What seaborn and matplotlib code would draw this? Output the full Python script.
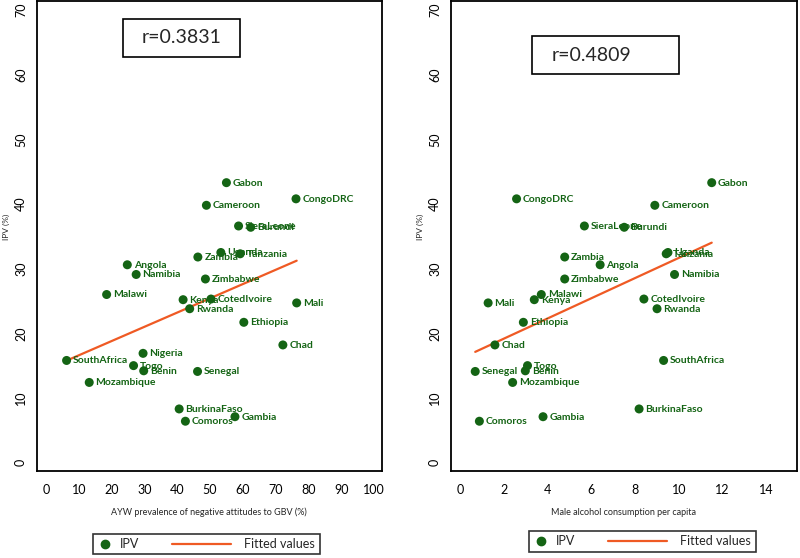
import numpy as np
import pandas as pd
import matplotlib
matplotlib.use("Agg")
import matplotlib.pyplot as plt
import seaborn as sns
from matplotlib.lines import Line2D
from matplotlib.patches import Rectangle
from matplotlib.legend_handler import HandlerLine2D

# --- data ---
countries = ["Gabon", "CongoDRC", "Cameroon", "SieraLeone", "Burundi", "Uganda",
             "Tanzania", "Zambia", "Angola", "Namibia", "Zimbabwe", "Malawi",
             "Kenya", "CotedIvoire", "Mali", "Rwanda", "Ethiopia", "Chad",
             "Nigeria", "SouthAfrica", "Togo", "Benin", "Senegal", "Mozambique",
             "BurkinaFaso", "Gambia", "Comoros"]
ipv = [43.3, 40.8, 39.8, 36.6, 36.4, 32.5, 32.3, 31.8, 30.6, 29.1, 28.4, 26.0,
       25.2, 25.3, 24.7, 23.8, 21.7, 18.2, 16.9, 15.8, 15.0, 14.2, 14.1, 12.4,
       8.3, 7.1, 6.4]
gbv_attitudes = [55.0, 76.2, 48.9, 58.7, 62.4, 53.3, 59.2, 46.3, 24.8, 27.5, 48.6,
                 18.5, 41.8, 50.3, 76.4, 43.8, 60.3, 72.2, 29.6, 6.3, 26.7, 29.8,
                 46.2, 13.2, 40.6, 57.6, 42.5]
alcohol = [11.5, 2.58, 8.9, 5.68, 7.5, 9.5, 9.42, 4.78, 6.4, 9.8, 4.78, 3.71,
           3.39, 8.4, 1.28, 9.0, 2.89, 1.59, np.nan, 9.3, 3.08, 2.98, 0.69, 2.40,
           8.18, 3.79, 0.88]
r_values = ["r=0.3831", "r=0.4809"]

df = pd.DataFrame({"country": countries, "IPV": ipv,
                   "gbv": gbv_attitudes, "alcohol": alcohol})

GREEN = "#146414"
ORANGE = "#ef5a24"

sns.set_style("white")
plt.rcParams["font.family"] = ["Lato", "DejaVu Sans"]


class LongLine(HandlerLine2D):
    # fitted-values handle drawn longer, reaching back into the column gap
    def create_artists(self, legend, orig_handle, xdescent, ydescent,
                       width, height, fontsize, trans):
        arts = super().create_artists(legend, orig_handle, xdescent, ydescent,
                                      width, height, fontsize, trans)
        for a in arts:
            y = a.get_ydata()
            a.set_data(np.linspace(-xdescent - 4.0 * fontsize,
                                   -xdescent + width - 0.5 * fontsize, len(y)), y)
        return arts


def draw_panel(ax, xcol, xlabel, xlim, xticks):
    sub = df.dropna(subset=[xcol])
    sns.scatterplot(data=sub, x=xcol, y="IPV", ax=ax, color=GREEN, s=42,
                    edgecolor="none", legend=False, zorder=3)
    sns.regplot(data=sub, x=xcol, y="IPV", ax=ax, scatter=False, ci=None,
                truncate=True, line_kws=dict(color=ORANGE, lw=1.6, zorder=2))
    for _, row in sub.iterrows():
        ax.annotate(row["country"], (row[xcol], row["IPV"]), xytext=(4.6, -0.3),
                    textcoords="offset points", va="center", ha="left",
                    fontsize=7.5, color=GREEN, fontweight="bold", zorder=4)
    ax.set_xlim(*xlim)
    ax.set_ylim(-1.3, 71.4)
    ax.set_xticks(xticks)
    ax.set_yticks(range(0, 71, 10))
    ax.tick_params(axis="both", direction="out", length=4, width=1,
                   labelsize=9, colors="black", pad=3)
    ax.tick_params(axis="x", pad=5)
    for lab in ax.get_yticklabels():
        lab.set_rotation(90)
        lab.set_va("center")
    for sp in ax.spines.values():
        sp.set_visible(True)
        sp.set_color("black")
        sp.set_linewidth(1.3)
    ax.set_xlabel(xlabel, fontsize=6.5)
    ax.set_ylabel("IPV (%)", fontsize=6)
    ax.xaxis.set_label_coords(0.5, -0.078)
    ax.yaxis.set_label_coords(-0.078, 0.52)


fig = plt.figure(figsize=(8, 5.58), dpi=100)
ax1 = fig.add_axes([0.0459, 0.1559, 0.4316, 0.8423])
ax2 = fig.add_axes([0.5634, 0.1559, 0.4329, 0.8423])

draw_panel(ax1, "gbv", "AYW prevalence of negative attitudes to GBV (%)",
           (-2.8, 102.4), range(0, 101, 10))
draw_panel(ax2, "alcohol", "Male alcohol consumption per capita",
           (-0.43, 15.4), range(0, 15, 2))

# r boxes
fig.patches.append(Rectangle((0.154, 0.898), 0.146, 0.068, transform=fig.transFigure,
                             fill=False, edgecolor="black", lw=1.2))
fig.text(0.227, 0.932, r_values[0], ha="center", va="center", fontsize=14)
fig.patches.append(Rectangle((0.665, 0.867), 0.184, 0.068, transform=fig.transFigure,
                             fill=False, edgecolor="black", lw=1.2))
fig.text(0.690, 0.901, r_values[1], ha="left", va="center", fontsize=14)

# legends
for cx, cy in [(0.258, 0.025), (0.803, 0.0296)]:
    h_pt = Line2D([], [], marker="o", ls="none", color=GREEN, markersize=6)
    h_ln = Line2D([], [], color=ORANGE, lw=1.6)
    leg = fig.legend([h_pt, h_ln], ["IPV", "Fitted values"], loc="center",
                     bbox_to_anchor=(cx, cy), ncol=2, fontsize=9, frameon=True,
                     fancybox=False, handlelength=1.2, handletextpad=0.6,
                     columnspacing=6.6, borderpad=0.35,
                     handler_map={h_ln: LongLine()})
    leg.get_frame().set_edgecolor("black")
    leg.get_frame().set_linewidth(1.2)

fig.savefig("out.png", dpi=100)
